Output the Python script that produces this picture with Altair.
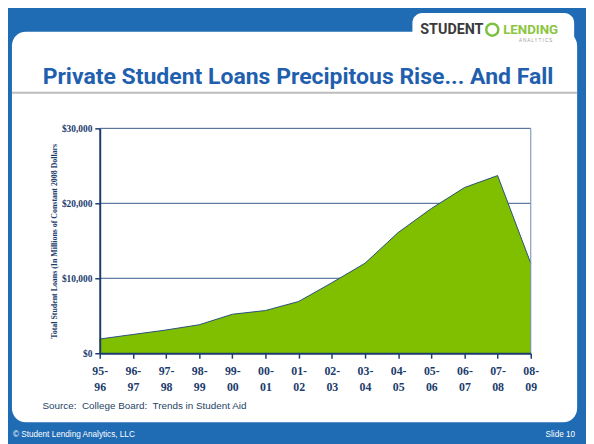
import altair as alt
import pandas as pd

periods = ["95-96", "96-97", "97-98", "98-99", "99-00", "00-01", "01-02",
           "02-03", "03-04", "04-05", "05-06", "06-07", "07-08", "08-09"]
loans = [1900, 2500, 3100, 3800, 5200, 5700, 6900,
         9400, 12000, 16100, 19300, 22100, 23700, 12000]
y_ticks = [0, 10000, 20000, 30000]

title_text = "Private Student Loans Precipitous Rise... And Fall"
y_title = "Total Student Loans (In Millions of Constant 2008 Dollars"
source_text = "Source:\u00a0 College Board:\u00a0 Trends in Student Aid"
footer_left = "\u00a9 Student Lending Analytics, LLC"
footer_right = "Slide 10"

df = pd.DataFrame({"period": periods, "loans": loans})
grid_df = pd.DataFrame({"v": y_ticks[1:]})
one = pd.DataFrame({"a": [0]})

NAVY = "#1c3c6c"
BLUE_BG = "#1f6bb4"
SERIF = "Liberation Serif"
TFONT = "Roboto"

base = alt.Chart(one)

panel = base.mark_rect(color="white", cornerRadius=14).encode(
    x=alt.value(-89), x2=alt.value(484), y=alt.value(-98), y2=alt.value(298))
tab = base.mark_rect(color="white", cornerRadius=10).encode(
    x=alt.value(317), x2=alt.value(481), y=alt.value(-117), y2=alt.value(-80))
sep = base.mark_rule(color="#bdbdbd", strokeWidth=2).encode(
    x=alt.value(-89), x2=alt.value(484), y=alt.value(-36))

title = base.mark_text(text=title_text, font=TFONT, fontWeight="bold", fontSize=23.3,
                       color="#1f5fae", align="center", baseline="alphabetic").encode(
    x=alt.value(201), y=alt.value(-45))

logo1 = base.mark_text(text="STUDENT", font=TFONT, fontWeight="bold", fontSize=14.5,
                       color="#3a3a3a", align="left", baseline="middle").encode(
    x=alt.value(325), y=alt.value(-100))
swirl = base.mark_point(shape="circle", size=150, strokeWidth=2.5, color="#7cc242",
                        filled=False, opacity=1).encode(x=alt.value(398), y=alt.value(-100))
logo2 = base.mark_text(text="LENDING", font=TFONT, fontWeight="bold", fontSize=13.5,
                       color="#8cc63f", align="left", baseline="middle").encode(
    x=alt.value(409), y=alt.value(-100))
logo3 = base.mark_text(text="A N A L Y T I C S", font="Liberation Sans", fontSize=4.5,
                       color="#9a9a9a", align="center", baseline="middle").encode(
    x=alt.value(442), y=alt.value(-89))

source = base.mark_text(text=source_text, font="Liberation Sans", fontSize=10,
                        color="#243f66", align="left", baseline="middle").encode(
    x=alt.value(-58), y=alt.value(282))
foot1 = base.mark_text(text=footer_left, font="Liberation Sans", fontSize=8.3,
                       color="white", align="left", baseline="middle").encode(
    x=alt.value(-88), y=alt.value(311))
foot2 = base.mark_text(text=footer_right, font="Liberation Sans", fontSize=8.3,
                       color="white", align="right", baseline="middle").encode(
    x=alt.value(482), y=alt.value(311))

grid = alt.Chart(grid_df).mark_rule(color="#37598a", strokeWidth=1).encode(
    y=alt.Y("v:Q", scale=alt.Scale(domain=[0, 30000], nice=False)),
    x=alt.value(0), x2=alt.value(437))
right_border = base.mark_rule(color="#6a89b2", strokeWidth=1).encode(
    x=alt.value(437), y=alt.value(0), y2=alt.value(228))

area = alt.Chart(df).mark_area(
    color="#80bf00", opacity=1, line={"color": "#2a4f80", "strokeWidth": 1}
).encode(
    x=alt.X("period:O", sort=periods,
            scale=alt.Scale(type="point", padding=0),
            axis=alt.Axis(title=None, labelAngle=0, zindex=1,
                          labelExpr="[slice(datum.label,0,3), slice(datum.label,3)]",
                          labelFont=SERIF, labelFontWeight="bold", labelFontSize=12,
                          labelColor=NAVY, labelLineHeight=15.5, labelPadding=8,
                          tickSize=5, tickColor=NAVY, tickWidth=1.5,
                          domainColor=NAVY, domainWidth=2, grid=False)),
    y=alt.Y("loans:Q", scale=alt.Scale(domain=[0, 30000], nice=False),
            axis=alt.Axis(title=y_title, values=y_ticks, format="$,.0f", zindex=1,
                          labelFont=SERIF, labelFontWeight="bold", labelFontSize=9.5,
                          labelColor=NAVY, labelPadding=3,
                          tickSize=5, tickColor=NAVY, tickWidth=1.5,
                          domainColor=NAVY, domainWidth=2, grid=False,
                          titleFont=SERIF, titleFontWeight="bold", titleFontSize=8,
                          titleColor=NAVY, titlePadding=3)),
)

chart = alt.layer(panel, tab, sep, title, logo1, swirl, logo2, logo3,
                  source, foot1, foot2, grid, area, right_border).properties(
    width=437, height=228,
    padding={"left": 93, "top": 119, "right": 56, "bottom": 89},
    autosize=alt.AutoSizeParams(type="none"),
    background=BLUE_BG,
).configure_view(stroke=None)

chart.save("out.html", embed_options={"renderer": "svg", "actions": False})
